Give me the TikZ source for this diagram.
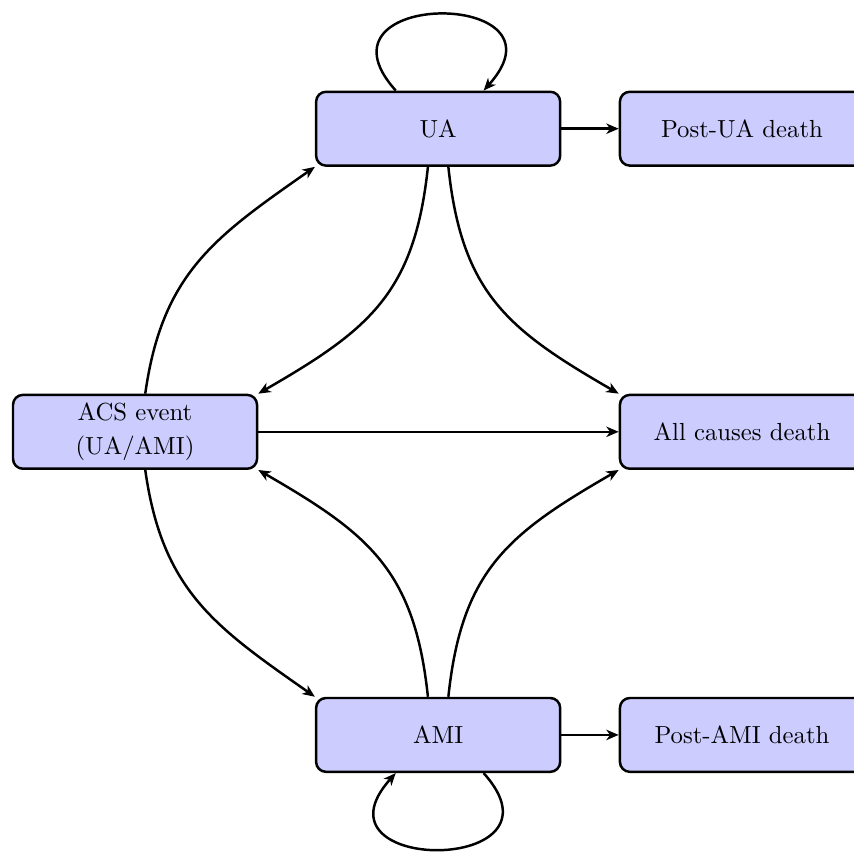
\documentclass[tikz,border=0pt]{standalone}
\usepackage{amsmath,amssymb}
\usepackage{xcolor}
\usepackage{tikz}
\usetikzlibrary{calc, positioning, arrows.meta}

\begin{document}
\begin{tikzpicture}[>={Stealth[length=5pt,width=4.2pt,inset=1.5pt]}, line width=1pt,
    state/.style={draw, rounded corners=4pt, fill=blue!20, align=center,
      minimum width=3.47cm, minimum height=1.05cm, inner sep=2pt}]
    \useasboundingbox (0,0) rectangle (12.13,12.2);
    \node[state] (ua) at (6.23,10.37) {UA};
    \node[state] (postua) at (10.55,10.37) {Post-UA death};
    \node[state] (acs) at (1.92,6.06) {ACS event\\[2pt](UA/AMI)};
    \node[state] (all) at (10.55,6.06) {All causes death};
    \node[state] (ami) at (6.23,1.75) {AMI};
    \node[state] (postami) at (10.55,1.75) {Post-AMI death};
    \draw[->] (ua.138) to[out=132,in=48,looseness=4] (ua.40);
    \draw[->] (ami.-40) to[out=-48,in=-132,looseness=4] (ami.-138);
    \draw[->] (ua) -- (postua);
    \draw[->] (ami) -- (postami);
    \draw[->] (acs) -- (all);
    \draw[->] (acs.75) to[out=82,in=215,looseness=1.1] (ua.south west);
    \draw[->] (acs.-75) to[out=-82,in=145,looseness=1.1] (ami.north west);
    \draw[->] (ua.-105) to[out=-96,in=30,looseness=1.15] (acs.north east);
    \draw[->] (ua.-75) to[out=-84,in=150,looseness=1.15] (all.north west);
    \draw[->] (ami.105) to[out=96,in=-30,looseness=1.15] (acs.south east);
    \draw[->] (ami.75) to[out=84,in=-150,looseness=1.15] (all.south west);
\end{tikzpicture}
\end{document}
